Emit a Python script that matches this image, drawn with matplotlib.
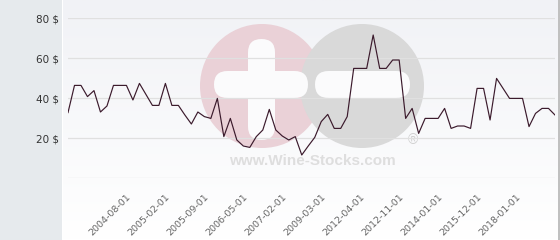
import numpy as np
import matplotlib
matplotlib.use("Agg")
import matplotlib.pyplot as plt
from matplotlib.patches import Rectangle, Circle, FancyBboxPatch

# price per bottle, one point per listed date
prices = [32.7, 46.3, 46.3, 40.7, 43.7, 33.0, 36.0, 46.3, 46.3, 46.3,
          39.0, 47.3, 41.8, 36.3, 36.3, 47.3, 36.3, 36.3, 31.5, 27.0,
          33.0, 30.7, 29.8, 39.8, 20.7, 29.8, 19.0, 16.0, 15.3, 20.7,
          24.0, 34.3, 24.0, 21.0, 19.0, 20.7, 11.5, 16.0, 20.3, 28.2,
          31.8, 24.8, 24.8, 30.7, 54.8, 54.8, 54.8, 71.5, 54.8, 54.8,
          59.0, 59.0, 29.8, 34.8, 22.3, 29.8, 29.8, 29.8, 34.8, 24.8,
          26.0, 26.0, 24.8, 44.8, 44.8, 29.0, 49.8, 44.8, 39.8, 39.8,
          39.8, 25.7, 32.3, 34.8, 34.8, 31.5]
tick_idx = [9, 15, 21, 27, 33, 39, 45, 51, 57, 63, 69]
tick_dates = ["2004-08-01", "2005-02-01", "2005-09-01", "2006-05-01",
              "2007-02-01", "2009-03-01", "2012-04-01", "2012-11-01",
              "2014-01-01", "2015-12-01", "2018-01-01"]
y_ticks = [0, 20, 40, 60, 80]
y_labels = ["", "20 $", "40 $", "60 $", "80 $"]

W, H = 560, 240
fig = plt.figure(figsize=(W / 100, H / 100), dpi=100, facecolor="white")

# background layer in pixel coordinates
bg = fig.add_axes([0, 0, 1, 1], zorder=0)
bg.set_xlim(0, W)
bg.set_ylim(H, 0)
bg.axis("off")
bg.add_patch(Rectangle((0, 0), 62, H, color="#e6eaed", lw=0))
grad = np.linspace(0, 1, 100)[:, None]
bg.imshow(grad, extent=[63, 558, H, 0], aspect="auto",
          cmap=matplotlib.colors.LinearSegmentedColormap.from_list(
              "bgc", ["#f1f2f6", "#ffffff"]), zorder=0)
bg.plot([559, 559], [0, H], color="#b4b4b4", lw=1.2)

# watermark
bg.add_patch(Circle((262, 86), 62, color="#ead1d7", lw=0, zorder=1))
bg.add_patch(Circle((362, 86), 62, color="#d9d9d9", lw=0, zorder=2))
r = 13.5
for (x0, y0, w, h) in [(248, 39, 27, 101), (214, 71, 94, 27), (315, 71, 95, 27)]:
    bg.add_patch(FancyBboxPatch((x0, y0), w, h,
                                boxstyle=f"round,pad=0,rounding_size={r}",
                                fc="#fbfbfc", ec="none", zorder=3))
bg.text(312, 161, "www.Wine-Stocks.com", ha="center", va="center",
        fontsize=11, fontweight="bold", family="Liberation Sans",
        color="#dedede", zorder=3)
bg.text(413, 140, "®", ha="center", va="center", fontsize=10,
        family="Liberation Sans", color="#d0d0d0", zorder=3)

# chart
ax = fig.add_axes([68 / W, 1 - 178 / H, (555 - 68) / W, 160 / H], zorder=1)
ax.patch.set_alpha(0)
x = np.arange(len(prices))
ax.plot(x, prices, color="#3b1a2c", lw=0.85, zorder=3)
ax.set_xlim(0, len(prices) - 1)
ax.set_ylim(0, 80)
ax.set_yticks(y_ticks)
ax.set_yticklabels(y_labels)
ax.grid(axis="y", color="#e0e0e0", lw=0.9)
ax.set_xticks(tick_idx)
ax.set_xticklabels(tick_dates, rotation=45, ha="right", va="top",
                   rotation_mode="anchor", fontsize=6.8, color="#666666")
for s in ax.spines.values():
    s.set_visible(False)
ax.tick_params(axis="x", length=0, pad=10)
ax.tick_params(axis="y", length=0, pad=6.5, labelsize=7.5, labelcolor="#333333")

fig.savefig("out.png", dpi=100, facecolor=fig.get_facecolor())
